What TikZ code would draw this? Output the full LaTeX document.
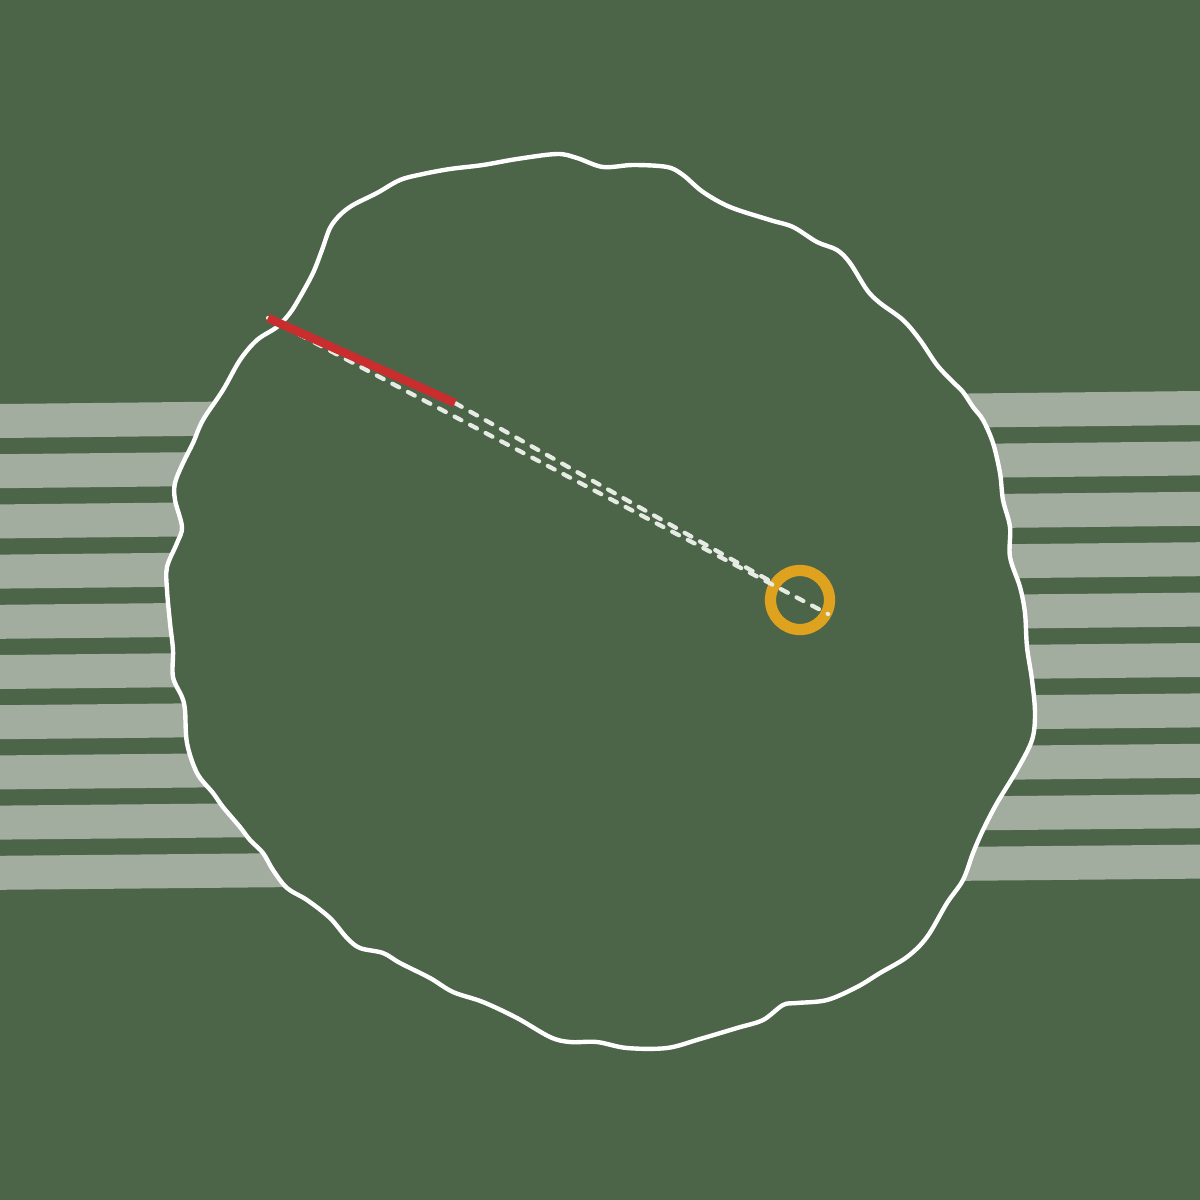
\documentclass[tikz,border=0pt]{standalone}
\usetikzlibrary{calc}

\definecolor{field}{HTML}{4C6549}
\definecolor{stripe}{HTML}{A2ADA0}
\definecolor{wallred}{HTML}{C92D2D}
\definecolor{ringgold}{HTML}{DFA21F}
\definecolor{dashwhite}{HTML}{E6EBE4}

\tikzset{
    sightline/.style={dashwhite, line width=1.2pt, line cap=round, dash pattern=on 2.2pt off 2.8pt},
    wallline/.style={wallred, line width=2.4pt},
    target/.style={circle, draw=ringgold, line width=3.2pt, minimum size=0.59cm, inner sep=0pt}
}

\begin{document}
\begin{tikzpicture}[x=0.01cm, y=-0.01cm, line join=round]

    % --- Background ---
    \fill[field] (0,0) rectangle (1200,1200);
    \useasboundingbox (0,0) rectangle (1200,1200);

    % --- Stripes (slightly tilted bands) ---
    \foreach \k in {0,...,9} {
        \fill[stripe] (0,{404+50.2*\k}) -- (1200,{391+50.4*\k})
            -- ++(0,34) -- (0,{438+50.2*\k}) -- cycle;
    }

    % --- Wavy outline ---
    \filldraw[fill=field, draw=white, line width=1.25pt]
        plot[smooth cycle, tension=0.55] coordinates {
        (223,390) (240,360) (257,340) (277,327) (290,313) (300,297) (313,273)
        (322,250) (330,228) (340,215) (353,205) (377,193) (400,180) (423,174)
        (450,169) (483,165) (517,159) (557,154) (577,158) (603,167) (633,165)
        (667,167) (683,175) (703,192) (730,207) (770,220) (793,227) (817,242)
        (837,250) (850,263) (867,290) (880,303) (903,320) (920,340) (937,365)
        (953,382) (963,392) (973,407) (983,420) (993,443) (1000,473) (1003,500)
        (1010,527) (1010,557) (1020,587) (1025,613) (1027,647) (1032,680)
        (1035,713) (1032,740) (1017,770) (997,803) (983,830) (973,853) (963,880)
        (947,903) (927,937) (907,957) (880,973) (857,987) (827,1000) (797,1003)
        (783,1005) (763,1020) (737,1028) (700,1039) (667,1048) (627,1048)
        (597,1042) (570,1042) (550,1037) (517,1018) (483,1002) (453,992)
        (430,978) (400,963) (383,953) (360,948) (347,938) (330,918) (307,900)
        (287,888) (273,870) (263,853) (250,840) (240,827) (223,807) (213,793)
        (197,773) (187,743) (185,710) (182,697) (173,677) (173,650) (170,623)
        (167,590) (167,567) (177,543) (182,527) (175,500) (175,483) (183,463)
        (193,443) (203,420)};

    % --- Points ---
    \coordinate (edge) at (268,318);     % where the red segment starts
    \coordinate (wallend) at (455,403);  % end of the red segment
    \coordinate (farend) at (828,614);   % lower dashed line ends inside the ring
    \coordinate (nearend) at (770,581);  % upper dashed line stops at the ring

    % --- Ring ---
    \node[target] (ring) at (800,600) {};

    % --- Dashed lines ---
    \draw[sightline] (edge) -- (farend);
    \draw[sightline] (wallend) -- (nearend);

    % --- Red segment ---
    \draw[wallline] (edge) -- (wallend);

\end{tikzpicture}
\end{document}
